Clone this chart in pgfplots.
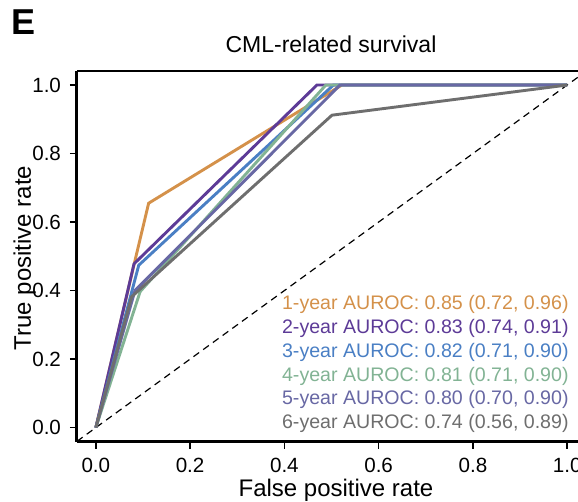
\documentclass[border=0pt]{standalone}
\usepackage{pgfplots}
\pgfplotsset{compat=1.18}
\usepackage{fontspec}
\setmainfont{Liberation Sans}
\definecolor{cA}{HTML}{D4914A}
\definecolor{cB}{HTML}{5D3B97}
\definecolor{cC}{HTML}{4A7FC4}
\definecolor{cD}{HTML}{82B394}
\definecolor{cE}{HTML}{6868A4}
\definecolor{cF}{HTML}{6E6E6E}
\begin{document}
\begin{tikzpicture}
\begin{axis}[
  at={(0,0)}, anchor=south west,
  scale only axis, width=254.5pt, height=185.5pt,
  xmin=-0.04, xmax=1.04, ymin=-0.042, ymax=1.041,
  xtick={0,0.2,0.4,0.6,0.8,1}, ytick={0,0.2,0.4,0.6,0.8,1},
  axis x line*=bottom, axis y line*=left,
  tick align=outside, major tick length=3.5pt,
  tick style={black, line width=0.7pt},
  axis line style={line width=1.5pt, -},
  ticklabel style={font=\fontsize{10.3}{11}\selectfont},
  /pgf/number format/fixed,
  /pgf/number format/fixed zerofill,
  /pgf/number format/precision=1,
  /pgf/number format/assume math mode=true,
  xticklabel style={yshift=-1pt},
  yticklabel style={xshift=-1pt},
  every axis plot/.append style={line width=1.45pt, line join=miter},
]
\draw[line width=1.5pt] (rel axis cs:0,1) -- (rel axis cs:1,1);
\addplot[black, line width=0.6pt, dash pattern=on 3.5pt off 2.5pt] coordinates {(-0.04,-0.04) (1.04,1.04)};
\addplot[cA] coordinates {(0,0) (0.08,0.47) (0.112,0.655) (0.522,1) (1,1)};
\addplot[cB] coordinates {(0,0) (0.081,0.478) (0.469,1) (1,1)};
\addplot[cC] coordinates {(0,0) (0.091,0.474) (0.504,1) (1,1)};
\addplot[cD] coordinates {(0,0) (0.094,0.397) (0.488,1) (1,1)};
\addplot[cE] coordinates {(0,0) (0.083,0.40) (0.518,1) (1,1)};
\addplot[cF] coordinates {(0,0) (0.076,0.382) (0.501,0.912) (1,1)};
\end{axis}
\begin{scope}[font=\fontsize{9.8}{11}\selectfont]
\node[anchor=base east, text=cA, inner sep=0pt] at (246pt,66pt) {1-year AUROC: 0.85 (0.72, 0.96)};
\node[anchor=base east, text=cB, inner sep=0pt] at (246pt,54.15pt) {2-year AUROC: 0.83 (0.74, 0.91)};
\node[anchor=base east, text=cC, inner sep=0pt] at (246pt,42.3pt) {3-year AUROC: 0.82 (0.71, 0.90)};
\node[anchor=base east, text=cD, inner sep=0pt] at (246pt,30.45pt) {4-year AUROC: 0.81 (0.71, 0.90)};
\node[anchor=base east, text=cE, inner sep=0pt] at (246pt,18.6pt) {5-year AUROC: 0.80 (0.70, 0.90)};
\node[anchor=base east, text=cF, inner sep=0pt] at (246pt,6.75pt) {6-year AUROC: 0.74 (0.56, 0.89)};
\end{scope}
\node[anchor=base, inner sep=0pt, font=\fontsize{11.5}{12}\selectfont] at (127pt,194.5pt) {CML-related survival};
\node[anchor=base west, inner sep=0pt, font=\fontsize{18}{18}\bfseries] at (-33pt,203.5pt) {E};
\node[anchor=base, inner sep=0pt, font=\fontsize{12}{13}\selectfont] at (129.5pt,-27.5pt) {False positive rate};
\node[anchor=base, inner sep=0pt, rotate=90, font=\fontsize{12}{13}\selectfont] at (-23pt,92pt) {True positive rate};
\pgfresetboundingbox
\path[use as bounding box] (-38.5pt,-30pt) rectangle (250.5pt,221pt);
\end{tikzpicture}
\end{document}
